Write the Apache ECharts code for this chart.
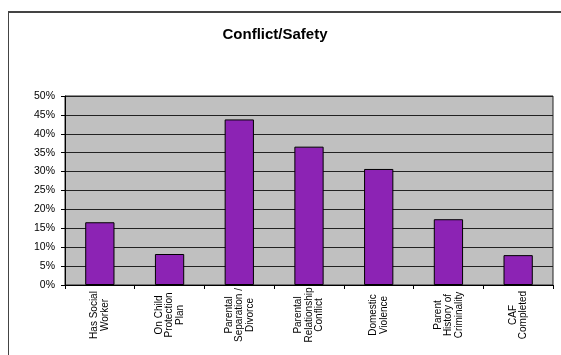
<!DOCTYPE html>
<html>
<head>
<meta charset="utf-8">
<script src="https://cdn.jsdelivr.net/npm/echarts@6/dist/echarts.min.js"></script>
<style>
  html, body { margin: 0; padding: 0; background: #fff; overflow: hidden; }
  #frame { position: absolute; left: 8px; top: 11px; width: 600px; height: 400px;
           border-left: 1px solid #444; border-top: 2px solid #444; box-sizing: border-box; }
  #chart { position: absolute; left: 0; top: 0; width: 561px; height: 355px; }
</style>
</head>
<body>
<div id="frame"></div>
<div id="chart"></div>
<script>
// Categories and shares (percent of cases)
const categories = [
  'Has Social\nWorker',
  'On Child\nProtection\nPlan',
  'Parental\nSeparation /\nDivorce',
  'Parental\nRelationship\nConflict',
  'Domestic\nViolence',
  'Parent\nHistory of\nCriminality',
  'CAF\nCompleted'
];
const shares = [16.6, 8.2, 43.8, 36.6, 30.7, 17.4, 7.9];
const yTicks = { min: 0, max: 50, step: 5 };

const chart = echarts.init(document.getElementById('chart'), null, { renderer: 'canvas' });
chart.setOption({
  animation: false,
  backgroundColor: 'transparent',
  title: {
    text: 'Conflict/Safety',
    left: 270,
    top: 22,
    textAlign: 'center',
    textStyle: { fontFamily: 'Liberation Sans, Arial, sans-serif', fontSize: 15, fontWeight: 'bold', color: '#000' }
  },
  grid: {
    left: 65, top: 96, right: 8, bottom: 70,
    show: true, backgroundColor: '#c0c0c0', borderColor: '#222', borderWidth: 1
  },
  xAxis: {
    type: 'category',
    data: categories,
    boundaryGap: true,
    axisLine: { lineStyle: { color: '#000', width: 1 } },
    axisTick: { show: true, length: 4, inside: false, lineStyle: { color: '#000' } },
    axisLabel: {
      interval: 0,
      rotate: 90,
      align: 'center',
      verticalAlign: 'middle',
      margin: 30,
      fontFamily: 'Liberation Sans, Arial, sans-serif',
      fontSize: 10,
      lineHeight: 10.5,
      color: '#000'
    }
  },
  yAxis: {
    type: 'value',
    min: yTicks.min, max: yTicks.max, interval: yTicks.step,
    axisLine: { show: true, lineStyle: { color: '#000' } },
    axisTick: { show: true, length: 4, lineStyle: { color: '#000' } },
    axisLabel: {
      formatter: '{value}%',
      margin: 10,
      fontFamily: 'Liberation Sans, Arial, sans-serif',
      fontSize: 10.5,
      color: '#000'
    },
    splitLine: { show: true, lineStyle: { color: '#222', width: 1 } }
  },
  series: [{
    type: 'bar',
    data: shares,
    barCategoryGap: '58%',
    itemStyle: { color: '#8c23b4', borderColor: '#000', borderWidth: 1 }
  }]
});
</script>
</body>
</html>
